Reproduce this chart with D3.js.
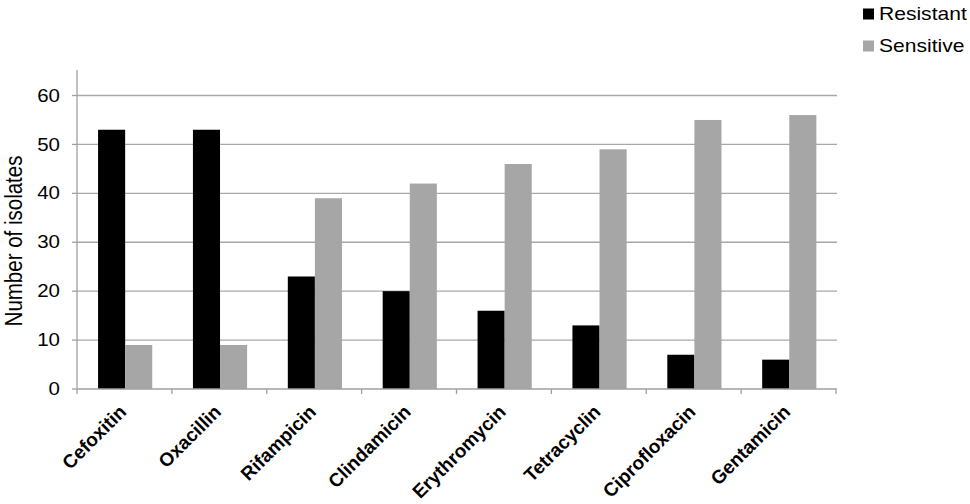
<!DOCTYPE html>
<html><head><meta charset="utf-8">
<script src="https://cdn.jsdelivr.net/npm/d3@7"></script>
<style>body{margin:0;background:#fff;}svg{display:block;font-family:Arial,"Liberation Sans",sans-serif;}</style>
</head><body><svg id="c" width="970" height="504"></svg>
<script>
const categories = ["Cefoxitin","Oxacillin","Rifampicin","Clindamicin","Erythromycin","Tetracyclin","Ciprofloxacin","Gentamicin"];
const resistant = [53,53,23,20,16,13,7,6];
const sensitive = [9,9,39,42,46,49,55,56];
const seriesNames = ["Resistant","Sensitive"];
const seriesColors = ["#000000","#a6a6a6"];
const yTicks = [0,10,20,30,40,50,60];

const svg = d3.select("#c");
const L = 77, R = 836, T = 70, B = 389;
const SX = 1.17;
const x0 = d3.scaleBand().domain(categories).range([L, R]).padding(0);
const step = x0.bandwidth();
const x1 = d3.scaleBand().domain(seriesNames).range([step*0.222, step*0.793]).padding(0);
const y = d3.scaleLinear().domain([0,60]).range([B, 95.5]);

// gridlines
svg.append("g").selectAll("line").data(yTicks.filter(d=>d>0)).join("line")
  .attr("x1", L).attr("x2", R+1).attr("y1", d=>y(d)).attr("y2", d=>y(d))
  .attr("stroke", "#a8a8a8").attr("stroke-width", 1.3);

// bars
const data = categories.map((c,i)=>({cat:c, vals:[resistant[i], sensitive[i]]}));
const g = svg.append("g").selectAll("g").data(data).join("g")
  .attr("transform", d=>`translate(${x0(d.cat)},0)`);
g.selectAll("rect").data(d=>d.vals.map((v,j)=>({s:seriesNames[j], v, j}))).join("rect")
  .attr("x", d=>x1(d.s)).attr("width", x1.bandwidth())
  .attr("y", d=>y(d.v)).attr("height", d=>B - y(d.v))
  .attr("fill", d=>seriesColors[d.j]);

// y axis ticks
svg.append("g").selectAll("line").data(yTicks).join("line")
  .attr("x1", L-5).attr("x2", L).attr("y1", d=>y(d)).attr("y2", d=>y(d))
  .attr("stroke", "#a0a0a0").attr("stroke-width", 1.3);
svg.append("g").selectAll("text").data(yTicks).join("text")
  .attr("transform", d=>`translate(60,${y(d)}) scale(${SX},1)`)
  .attr("text-anchor", "end").attr("dy", "0.35em")
  .attr("font-size", 17.5).attr("fill", "#000")
  .text(d=>d3.format("d")(d));
svg.append("line").attr("x1", L).attr("x2", L).attr("y1", T).attr("y2", B)
  .attr("stroke", "#a0a0a0").attr("stroke-width", 1.3);

// x axis
svg.append("line").attr("x1", L).attr("x2", R+1).attr("y1", B).attr("y2", B)
  .attr("stroke", "#a0a0a0").attr("stroke-width", 1.3);
const bounds = categories.map(c=>x0(c)).concat([R]);
svg.append("g").selectAll("line").data(bounds).join("line")
  .attr("x1", d=>d).attr("x2", d=>d).attr("y1", B).attr("y2", B+5)
  .attr("stroke", "#a0a0a0").attr("stroke-width", 1.3);
svg.append("g").selectAll("text").data(categories).join("text")
  .attr("transform", d=>`translate(${x0(d)+step/2+3},${B+24}) rotate(-45)`)
  .attr("text-anchor", "end")
  .attr("font-size", 19).attr("font-weight", "bold").attr("fill", "#000")
  .text(d=>d);

// y label
svg.append("text").attr("transform", `translate(22,241) scale(${SX},1) rotate(-90)`)
  .attr("text-anchor", "middle").attr("font-size", 20.5).attr("fill", "#000")
  .text("Number of isolates");

// legend
const leg = svg.append("g").selectAll("g").data(seriesNames).join("g")
  .attr("transform", (d,i)=>`translate(863,${14 + i*32})`);
leg.append("rect").attr("x", 0).attr("y", -5.5).attr("width", 11).attr("height", 11)
  .attr("fill", (d,i)=>seriesColors[i]);
leg.append("text").attr("transform", `translate(16,6.3) scale(${SX},1)`)
  .attr("font-size", 18).attr("fill", "#000").text(d=>d);
</script></body></html>
